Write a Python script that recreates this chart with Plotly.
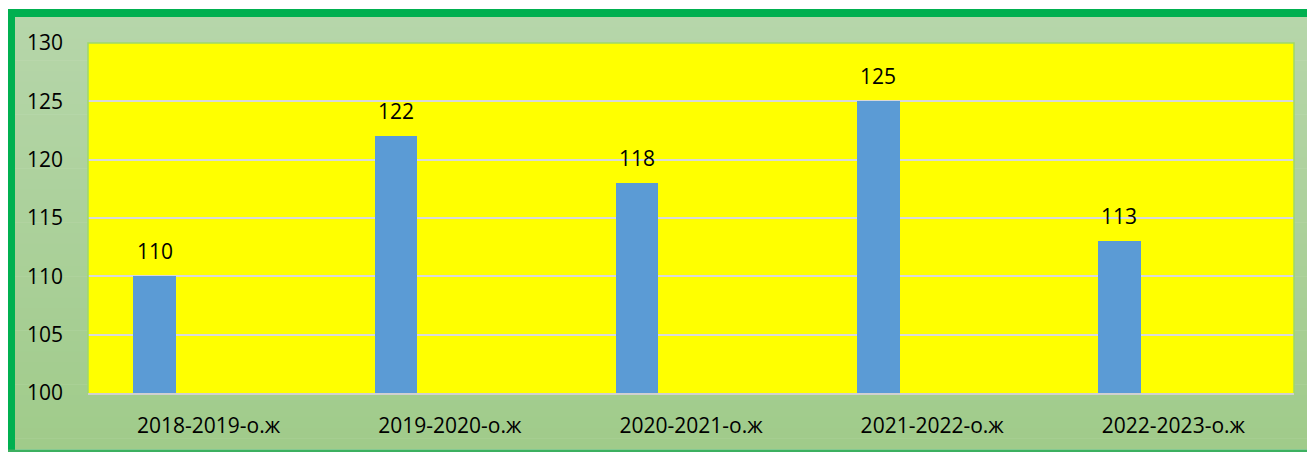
import plotly.graph_objects as go

categories = ["2018-2019-о.ж", "2019-2020-о.ж", "2020-2021-о.ж", "2021-2022-о.ж", "2022-2023-о.ж"]
values = [110, 122, 118, 125, 113]
y_ticks = [100, 105, 110, 115, 120, 125, 130]

# page is offset by the 8px body margin, so the figure is sized/positioned accordingly
OFF = 8
W, H = 1315 - OFF, 452 - OFF
L, R, T, B = 88 - OFF, 21, 43 - OFF, 59
pw, ph = W - L - R, H - T - B

def px_x(px):
    return (px - OFF - L) / pw

def px_y(py):
    return (H - B - (py - OFF)) / ph

fig = go.Figure()
fig.add_trace(go.Bar(
    x=categories, y=values,
    marker=dict(color="#5b9bd5", line=dict(width=0)),
    width=0.177, offset=-0.312,
    hoverinfo="x+y",
))

font = "Open Sans, Liberation Sans, sans-serif"

annotations = []
for c, v in zip(categories, values):
    annotations.append(dict(
        x=c, y=v, xref="x", yref="y", text=str(v), showarrow=False,
        xshift=-54, yshift=25, yanchor="middle",
        font=dict(family=font, size=21, color="#000000"),
    ))

shapes = []
# gradient background for the chart container
top_c = (182, 214, 170)
bot_c = (160, 203, 138)
n = 40
y_top, y_bot = 17, 449
for i in range(n):
    a = y_top + (y_bot - y_top) * i / n
    b = y_top + (y_bot - y_top) * (i + 1) / n
    t = (i + 0.5) / n
    col = tuple(int(round(top_c[k] + (bot_c[k] - top_c[k]) * t)) for k in range(3))
    shapes.append(dict(type="rect", xref="paper", yref="paper",
                       x0=px_x(15), x1=px_x(1320), y0=px_y(b + 0.5), y1=px_y(a),
                       fillcolor="rgb(%d,%d,%d)" % col, line=dict(width=0), layer="below"))
# yellow plot area
shapes.append(dict(type="rect", xref="paper", yref="paper", x0=0, x1=1, y0=0, y1=1,
                   fillcolor="#ffff00", line=dict(width=0), layer="below"))
# green container border (top thick, left thick, bottom thin)
shapes.append(dict(type="rect", xref="paper", yref="paper",
                   x0=px_x(7), x1=px_x(1320), y0=px_y(17), y1=px_y(9),
                   fillcolor="#00b050", line=dict(width=0), layer="above"))
shapes.append(dict(type="rect", xref="paper", yref="paper",
                   x0=px_x(7), x1=px_x(15), y0=px_y(460), y1=px_y(9),
                   fillcolor="#00b050", line=dict(width=0), layer="above"))
shapes.append(dict(type="rect", xref="paper", yref="paper",
                   x0=px_x(7), x1=px_x(1320), y0=px_y(460), y1=px_y(449.5),
                   fillcolor="#3cb060", line=dict(width=0), layer="above"))
# plot-area light green edge (top, left, right)
shapes.append(dict(type="path", xref="paper", yref="paper",
                   path="M 0,0 L 0,1 L 1,1 L 1,0",
                   line=dict(color="#9fd76a", width=1.5), layer="above"))

fig.update_layout(
    width=W, height=H,
    margin=dict(l=L, r=R, t=T, b=B, pad=0),
    paper_bgcolor="#ffffff",
    plot_bgcolor="#ffff00",
    showlegend=False,
    bargap=0,
    annotations=annotations,
    shapes=shapes,
    xaxis=dict(
        type="category", showgrid=False, showline=True, linecolor="#d0d0d0", linewidth=2,
        ticks="", tickfont=dict(family=font, size=21, color="#000000"),
        ticklabelstandoff=13, zeroline=False, range=[-0.5, 4.5], fixedrange=True,
    ),
    yaxis=dict(
        range=[100, 130], tickvals=y_ticks, showgrid=True, gridcolor="#d9d9d9", gridwidth=2,
        showline=False, zeroline=False, ticks="",
        tickfont=dict(family=font, size=21, color="#000000"),
        ticklabelstandoff=24, fixedrange=True,
    ),
)

fig.write_html("out.html")
